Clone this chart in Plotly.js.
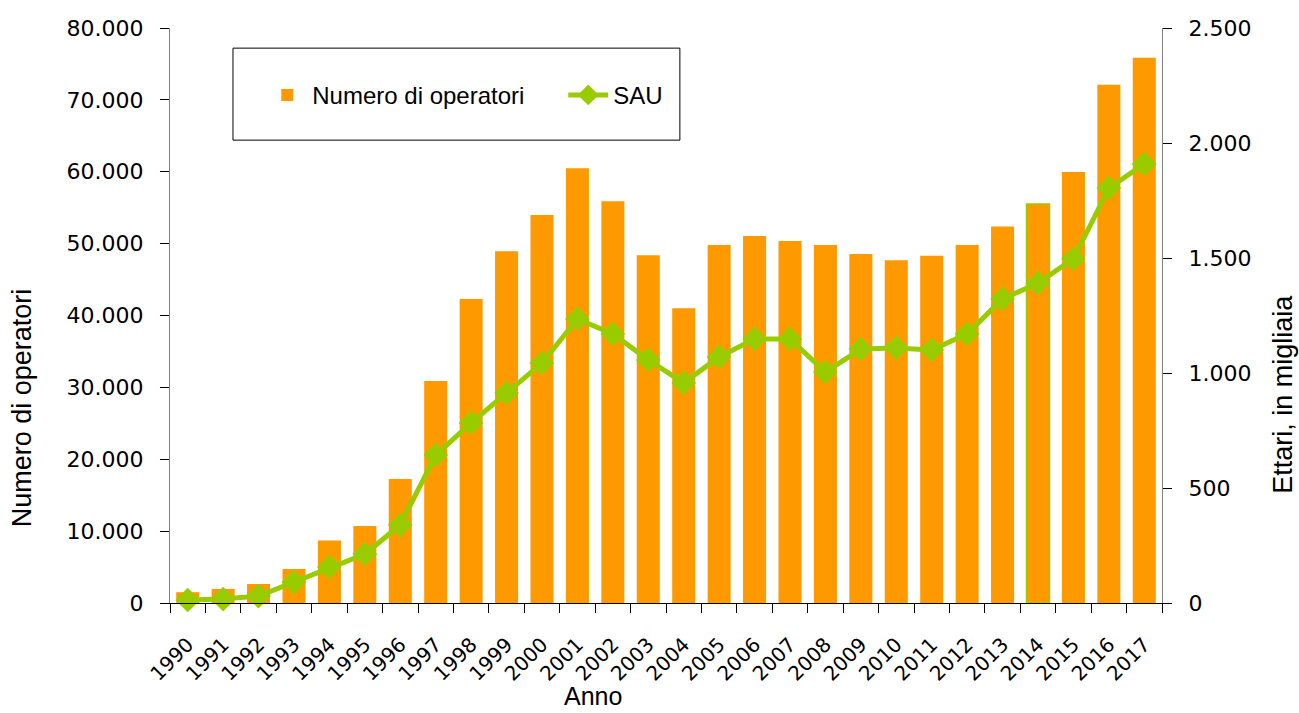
<!DOCTYPE html>
<html>
<head>
<meta charset="utf-8">
<script src="https://cdn.plot.ly/plotly-3.0.1.min.js"></script>
<style>
  html, body { margin: 0; padding: 0; background: #fff; }
  #plot { width: 1299px; height: 713px; }
</style>
</head>
<body>
<div id="plot"></div>
<script>
document.addEventListener("DOMContentLoaded", function(event) {

  const years = [
    1990, 1991, 1992, 1993, 1994, 1995, 1996, 1997, 1998, 1999,
    2000, 2001, 2002, 2003, 2004, 2005, 2006, 2007, 2008, 2009,
    2010, 2011, 2012, 2013, 2014, 2015, 2016, 2017
  ];

  // Numero di operatori
  const operatori = [
    1500, 1950, 2640, 4730, 8700, 10700, 17250, 30900, 42300, 48950,
    54000, 60500, 55900, 48400, 41000, 49800, 51050, 50350, 49800, 48550,
    47700, 48300, 49800, 52400, 55500, 59950, 72100, 75850
  ];

  // SAU, ettari in migliaia
  const sau = [
    13, 17, 30, 91, 157, 213, 339, 643, 783, 913,
    1043, 1235, 1170, 1057, 957, 1070, 1148, 1148, 1004, 1104,
    1109, 1100, 1170, 1322, 1391, 1496, 1804, 1909
  ];

  const leftTicks = [0, 10000, 20000, 30000, 40000, 50000, 60000, 70000, 80000];
  const leftLabels = ['0', '10.000', '20.000', '30.000', '40.000', '50.000', '60.000', '70.000', '80.000'];
  const rightTicks = [0, 500, 1000, 1500, 2000, 2500];
  const rightLabels = ['0', '500', '1.000', '1.500', '2.000', '2.500'];

  const orange = '#FF9900';
  const green = '#99CC00';

  const trace1 = {
    x: years,
    y: operatori,
    name: 'Numero di operatori',
    type: 'bar',
    width: 0.65,
    marker: {
      color: orange,
      line: {
        color: years.map(function(y) { return y === 2014 ? green : orange; }),
        width: years.map(function(y) { return y === 2014 ? 1.5 : 0; })
      }
    }
  };

  const trace2 = {
    x: years,
    y: sau,
    name: 'SAU',
    type: 'scatter',
    mode: 'lines+markers',
    yaxis: 'y2',
    cliponaxis: false,
    line: { color: green, width: 5 },
    marker: { symbol: 'diamond', size: 19, color: green }
  };

  const tickFont = { family: 'DejaVu Sans, Verdana, sans-serif', size: 22, color: '#000' };
  const titleFont = { family: 'Liberation Sans, Arial, sans-serif', size: 27, color: '#000' };

  // axis titles sit off-centre in the original, so they are annotations
  const annotations = [
    { text: 'Numero di operatori', xref: 'paper', yref: 'paper', x: -0.149, y: 0.339,
      xanchor: 'center', yanchor: 'middle', textangle: -90, showarrow: false, font: titleFont },
    { text: 'Ettari, in migliaia', xref: 'paper', yref: 'paper', x: 1.122, y: 0.362,
      xanchor: 'center', yanchor: 'middle', textangle: -90, showarrow: false, font: titleFont },
    { text: 'Anno', xref: 'paper', yref: 'paper', x: 0.426, y: -0.162,
      xanchor: 'center', yanchor: 'middle', showarrow: false,
      font: { family: 'Liberation Sans, Arial, sans-serif', size: 25, color: '#000' } }
  ];

  const layout = {
    width: 1299,
    height: 713,
    margin: { l: 170, r: 137, t: 28, b: 110 },
    paper_bgcolor: '#fff',
    plot_bgcolor: '#fff',
    showlegend: true,
    xaxis: {
      range: [1989.5, 2017.5],
      tickvals: years,
      ticktext: years.map(String),
      showgrid: false,
      showline: true,
      linecolor: '#000',
      linewidth: 1,
      // invisible long major ticks push the labels down; minor ticks mark the boundaries
      ticks: 'outside',
      ticklen: 21,
      tickcolor: 'rgba(0,0,0,0)',
      tickangle: -45,
      tickfont: { family: 'DejaVu Sans, Verdana, sans-serif', size: 20, color: '#000' },
      minor: { ticks: 'outside', tick0: 1989.5, dtick: 1, ticklen: 9, tickcolor: '#000', showgrid: false },
      zeroline: false
    },
    yaxis: {
      range: [0, 80000],
      tickvals: leftTicks,
      ticktext: leftLabels,
      showgrid: false,
      showline: true,
      linecolor: '#808080',
      linewidth: 1,
      ticks: 'outside',
      ticklen: 9,
      tickcolor: '#000',
      ticklabelstandoff: 12,
      tickfont: tickFont,
      zeroline: false
    },
    yaxis2: {
      overlaying: 'y',
      side: 'right',
      range: [0, 2500],
      tickvals: rightTicks,
      ticktext: rightLabels,
      showgrid: false,
      showline: true,
      linecolor: '#808080',
      linewidth: 1,
      ticks: 'outside',
      ticklen: 9,
      tickcolor: '#000',
      ticklabelstandoff: 12,
      tickfont: tickFont,
      zeroline: false
    },
    legend: {
      orientation: 'h',
      x: 0.093,
      xanchor: 'left',
      y: 0.883,
      yanchor: 'middle',
      bgcolor: 'rgba(0,0,0,0)',
      borderwidth: 0,
      font: { family: 'Liberation Sans, Arial, sans-serif', size: 24, color: '#000' },
      entrywidth: 246,
      itemwidth: 40
    },
    annotations: annotations,
    shapes: [{
      type: 'rect',
      xref: 'paper',
      yref: 'paper',
      x0: 0.0635,
      x1: 0.514,
      y0: 0.805,
      y1: 0.965,
      line: { color: '#000', width: 1 },
      fillcolor: '#fff',
      layer: 'below'
    }]
  };

  Plotly.newPlot('plot', [trace1, trace2], layout, { displayModeBar: false, staticPlot: true });

});
</script>
</body>
</html>
